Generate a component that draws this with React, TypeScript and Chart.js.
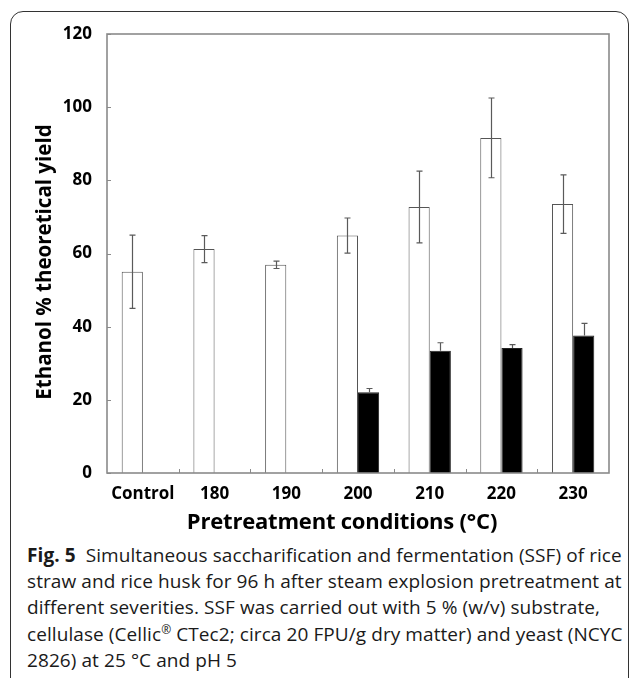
import React, { useEffect, useRef } from "react";
import { Chart, registerables } from "chart.js";

Chart.register(...registerables);

const categories = ["Control", "180", "190", "200", "210", "220", "230"];
const whiteValues = [55.0, 61.2, 56.9, 64.9, 72.7, 91.6, 73.5];
const whiteErrors = [10.0, 3.7, 1.0, 4.8, 9.8, 10.9, 8.0];
const blackValues = [null, null, null, 22.1, 33.4, 34.2, 37.6];
const blackErrors = [null, null, null, 1.0, 2.2, 0.9, 3.3];
const yTicks = [0, 20, 40, 60, 80, 100, 120];
const yTitle = "Ethanol % theoretical yield";
const xTitle = "Pretreatment conditions (°C)";

const errorBarPlugin = {
  id: "errorBars",
  afterDatasetsDraw(chart: any) {
    const ctx = chart.ctx;
    const yScale = chart.scales.y;
    const sets = [
      { idx: 0, vals: whiteValues, errs: whiteErrors, both: true },
      { idx: 1, vals: blackValues, errs: blackErrors, both: false },
    ];
    ctx.save();
    ctx.strokeStyle = "#5a5a5a";
    ctx.lineWidth = 1.2;
    sets.forEach((s) => {
      const meta = chart.getDatasetMeta(s.idx);
      meta.data.forEach((bar: any, j: number) => {
        const v = s.vals[j];
        const e = s.errs[j];
        if (v == null || e == null) return;
        const x = Math.round(bar.x) + 0.5;
        const yTop = yScale.getPixelForValue(v + e);
        const yBot = s.both ? yScale.getPixelForValue(v - e) : yScale.getPixelForValue(v);
        ctx.beginPath();
        ctx.moveTo(x, yTop);
        ctx.lineTo(x, yBot);
        ctx.moveTo(x - 3, yTop);
        ctx.lineTo(x + 3, yTop);
        if (s.both) {
          ctx.moveTo(x - 3, yBot);
          ctx.lineTo(x + 3, yBot);
        }
        ctx.stroke();
      });
    });
    ctx.restore();
  },
};

const framePlugin = {
  id: "plotFrame",
  afterDraw(chart: any) {
    const ctx = chart.ctx;
    const { left, right, top, bottom } = chart.chartArea;
    const xs = chart.scales.x;
    const ys = chart.scales.y;
    ctx.save();
    ctx.strokeStyle = "#8a8a8a";
    ctx.lineWidth = 1;
    ctx.beginPath();
    yTicks.forEach((t) => {
      const y = Math.round(ys.getPixelForValue(t)) + 0.5;
      ctx.moveTo(left, y);
      ctx.lineTo(left + 4, y);
    });
    for (let j = 1; j < categories.length; j++) {
      const x = Math.round((xs.getPixelForValue(j - 1) + xs.getPixelForValue(j)) / 2) + 0.5;
      ctx.moveTo(x, bottom);
      ctx.lineTo(x, bottom - 4);
    }
    ctx.stroke();
    ctx.lineWidth = 1.6;
    ctx.strokeStyle = "#8a8a8a";
    ctx.strokeRect(left, top, right - left, bottom - top);
    ctx.restore();
  },
};

export default function App() {
  const ref = useRef<HTMLCanvasElement | null>(null);

  useEffect(() => {
    if (!ref.current) return;
    const chart = new Chart(ref.current, {
      type: "bar",
      data: {
        labels: categories,
        datasets: [
          {
            data: whiteValues,
            backgroundColor: "#ffffff",
            borderColor: "#555555",
            borderWidth: 1,
          },
          {
            data: blackValues as any,
            backgroundColor: "#000000",
            borderColor: "#222222",
            borderWidth: 1,
          },
        ],
      },
      options: {
        responsive: false,
        animation: false,
        devicePixelRatio: 1,
        layout: { padding: { top: 34, right: 20, left: 0, bottom: 0 } },
        plugins: { legend: { display: false }, tooltip: { enabled: false } },
        datasets: {
          bar: { barPercentage: 1, categoryPercentage: 0.59 },
        },
        scales: {
          x: {
            grid: { display: false },
            border: { display: false },
            ticks: {
              color: "#000",
              font: { family: "'Open Sans'", weight: "bold", size: 17 },
              padding: 3,
              maxRotation: 0,
            },
            afterFit: (scale: any) => {
              scale.height = 67;
            },
          },
          y: {
            min: 0,
            max: 120,
            grid: { display: false },
            border: { display: false },
            afterBuildTicks: (scale: any) => {
              scale.ticks = yTicks.map((v) => ({ value: v }));
            },
            ticks: {
              color: "#000",
              font: { family: "'Open Sans'", weight: "bold", size: 17 },
              padding: 7,
            },
            afterFit: (scale: any) => {
              scale.width = 107;
            },
          },
        },
      },
      plugins: [errorBarPlugin, framePlugin],
    });
    return () => chart.destroy();
  }, []);

  return (
    <div
      style={{
        position: "absolute",
        left: 0,
        top: 0,
        width: 629,
        height: 678,
        overflow: "hidden",
        background: "#fff",
      }}
    >
      <div
        style={{
          position: "absolute",
          left: 10,
          top: 11,
          width: 617,
          height: 720,
          border: "1.5px solid #333",
          borderRadius: 13,
        }}
      />
      <canvas
        ref={ref}
        width={629}
        height={540}
        style={{ position: "absolute", left: 0, top: 0, width: 629, height: 540 }}
      />
      <div
        style={{
          position: "absolute",
          left: -157,
          top: 247,
          width: 400,
          height: 30,
          lineHeight: "30px",
          textAlign: "center",
          transform: "rotate(-90deg)",
          fontFamily: "'Open Sans', sans-serif",
          fontWeight: "bold",
          fontSize: 20.5,
          color: "#000",
          whiteSpace: "nowrap",
        }}
      >
        {yTitle}
      </div>
      <div
        style={{
          position: "absolute",
          left: 142,
          top: 505,
          width: 400,
          height: 30,
          lineHeight: "30px",
          textAlign: "center",
          fontFamily: "'Open Sans', sans-serif",
          fontWeight: "bold",
          fontSize: 22,
          letterSpacing: "-0.2px",
          color: "#000",
          whiteSpace: "nowrap",
        }}
      >
        {xTitle}
      </div>
      <div
        style={{
          position: "absolute",
          left: 27,
          top: 542,
          fontFamily: "'Open Sans', sans-serif",
          fontSize: 19,
          lineHeight: "26.2px",
          color: "#1a1a1a",
          whiteSpace: "nowrap",
          letterSpacing: "0.08px",
        }}
      >
        <b>Fig. 5</b>&nbsp; Simultaneous saccharification and fermentation (SSF) of rice
        <br />
        straw and rice husk for 96 h after steam explosion pretreatment at
        <br />
        different severities. SSF was carried out with 5 % (w/v) substrate,
        <br />
        cellulase (Cellic<sup style={{ fontSize: 12, lineHeight: 0 }}>®</sup> CTec2; circa 20 FPU/g dry matter) and yeast (NCYC
        <br />
        2826) at 25 °C and pH 5
      </div>
    </div>
  );
}
